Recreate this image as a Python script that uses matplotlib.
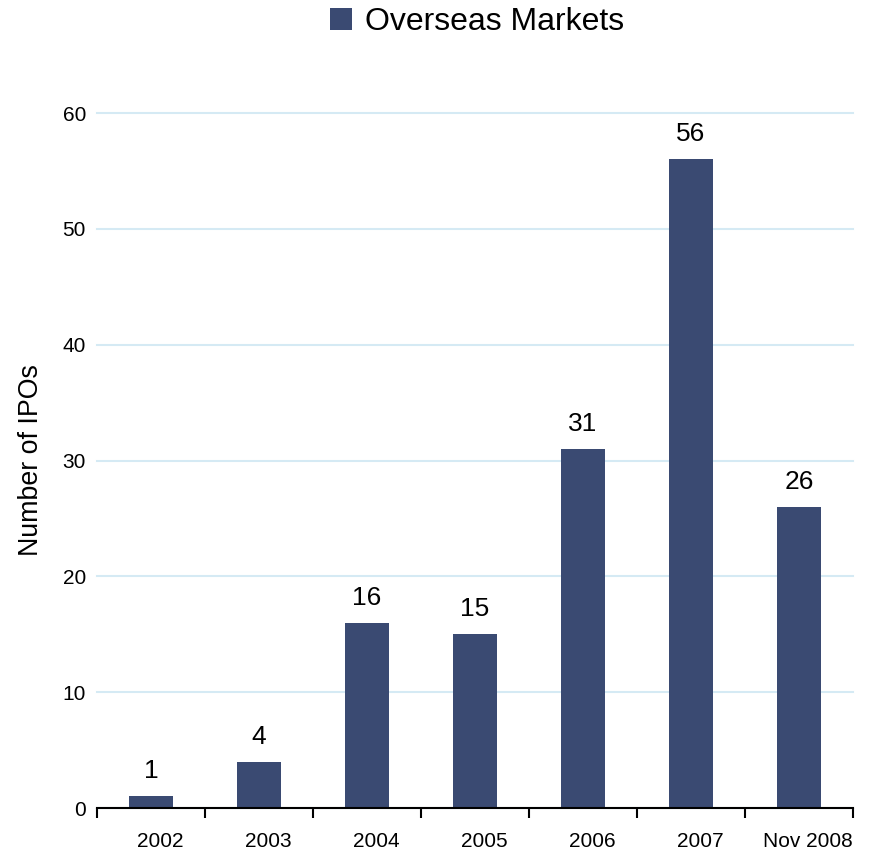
import numpy as np
import matplotlib.pyplot as plt
import matplotlib.transforms as mtransforms
from matplotlib.ticker import FixedLocator

plt.rcParams['font.family'] = ['Liberation Sans', 'DejaVu Sans']

years = ['2002', '2003', '2004', '2005', '2006', '2007', 'Nov 2008']
ipos = [1, 4, 16, 15, 31, 56, 26]
series_name = 'Overseas Markets'

bar_color = '#3A4A72'
grid_color = '#D5EAF4'

fig = plt.figure(figsize=(8.7, 8.51), dpi=100)
ax = fig.add_axes([0.1115, 0.0505, 0.869, 0.8167])

x = np.arange(len(years))
bars = ax.bar(x, ipos, width=0.4, color=bar_color, label=series_name, zorder=3)

# value labels above the bars
for xi, v in zip(x, ipos):
    ax.annotate(str(v), (xi, v), xytext=(0, 13), textcoords='offset points',
                ha='center', va='baseline', fontsize=19)

ax.set_xlim(-0.5, len(years) - 0.5)
ax.set_ylim(0, 60)
ax.set_yticks(range(0, 61, 10))
ax.yaxis.grid(True, color=grid_color, linewidth=1.5, zorder=0)
for gl in ax.get_ygridlines():
    gl.set_clip_on(False)
ax.tick_params(axis='y', length=0, labelsize=15, pad=8)

ax.set_xticks(x)
ax.set_xticklabels(years)
ax.tick_params(axis='x', which='major', length=0, labelsize=15, pad=17)
ax.xaxis.set_minor_locator(FixedLocator(np.arange(-0.5, len(years), 1.0)))
ax.tick_params(axis='x', which='minor', length=7, width=1.5, direction='out', color='black')

# category labels sit a little right of the bar centres in the original
shift = mtransforms.ScaledTranslation(9 / 100, 0, fig.dpi_scale_trans)
for lbl in ax.get_xticklabels():
    lbl.set_transform(lbl.get_transform() + shift)

for s in ['left', 'right', 'top']:
    ax.spines[s].set_visible(False)
ax.spines['bottom'].set_linewidth(1.5)
ax.spines['bottom'].set_zorder(4)

ax.set_ylabel('Number of IPOs', fontsize=19.3, labelpad=13.5)

fig.legend(loc='upper center', bbox_to_anchor=(0.548, 1.025), frameon=False,
           fontsize=23, handlelength=0.7, handleheight=0.7, handletextpad=0.4)

fig.savefig('out.png', dpi=100)
